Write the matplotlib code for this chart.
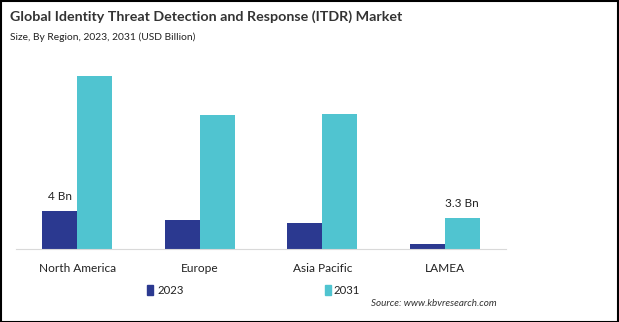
import matplotlib
matplotlib.use("Agg")
import matplotlib.pyplot as plt
import numpy as np
from matplotlib.patches import Rectangle

regions = ["North America", "Europe", "Asia Pacific", "LAMEA"]
years = ["2023", "2031"]
v2023 = [4.0, 3.05, 2.77, 0.56]
v2031 = [18.2, 14.1, 14.2, 3.3]
labels2023 = ["4 Bn", "", "", ""]
labels2031 = ["", "", "", "3.3 Bn"]

c2023 = "#2b3990"
c2031 = "#50c4d0"

plt.rcParams['font.family'] = ['Lato', 'DejaVu Sans']

fig = plt.figure(figsize=(6.19, 3.22), dpi=100)
W, H = 619, 322
ax = fig.add_axes([16 / W, 1 - 249 / H, (506 - 16) / W, (249 - 59) / H])

x = np.arange(len(regions))
w = 0.286
b1 = ax.bar(x - w / 2, v2023, w, color=c2023, label=years[0])
b2 = ax.bar(x + w / 2, v2031, w, color=c2031, label=years[1])

for rect, lab in zip(b1, labels2023):
    if lab:
        ax.text(rect.get_x() + rect.get_width() / 2, rect.get_height() + 0.9, lab,
                ha="center", va="bottom", fontsize=8.5, color="#222222")
for rect, lab in zip(b2, labels2031):
    if lab:
        ax.text(rect.get_x() + rect.get_width() / 2, rect.get_height() + 0.9, lab,
                ha="center", va="bottom", fontsize=8.5, color="#222222")

ax.set_xlim(-0.5, 3.5)
ax.set_ylim(0, 20)
ax.set_yticks([])
ax.set_xticks(x)
ax.set_xticklabels(regions, fontsize=8.6, color="#222222")
ax.tick_params(axis="x", length=0, pad=10)
for s in ["top", "right", "left"]:
    ax.spines[s].set_visible(False)
ax.spines["bottom"].set_color("#d9d9d9")

fig.text(10 / W, 1 - 17 / H, "Global Identity Threat Detection and Response (ITDR) Market",
         fontsize=10.3, fontweight="bold", color="#333333", va="center", ha="left")
fig.text(10 / W, 1 - 37 / H, "Size, By Region, 2023, 2031 (USD Billion)",
         fontsize=7.4, color="#222222", va="center", ha="left")

# legend drawn as two separate entries
fig.patches.append(Rectangle((147 / W, 1 - 295 / H), 6 / W, 10 / H, transform=fig.transFigure,
                             color=c2023))
fig.text(157 / W, 1 - 290 / H, years[0], fontsize=8.2, va="center", ha="left", color="#222222")
fig.patches.append(Rectangle((325 / W, 1 - 295 / H), 6 / W, 10 / H, transform=fig.transFigure,
                             color=c2031))
fig.text(333 / W, 1 - 290 / H, years[1], fontsize=8.2, va="center", ha="left", color="#222222")

fig.text(497 / W, 1 - 303 / H, "Source: www.kbvresearch.com", fontsize=7.1, style="italic",
         color="#333333", va="center", ha="right")

fig.patches.append(Rectangle((0.5 / W, 0.5 / H), 1 - 1.5 / W, 1 - 1.5 / H,
                             transform=fig.transFigure, fill=False, edgecolor="black", lw=1.5))

fig.savefig("out.png", dpi=100)
